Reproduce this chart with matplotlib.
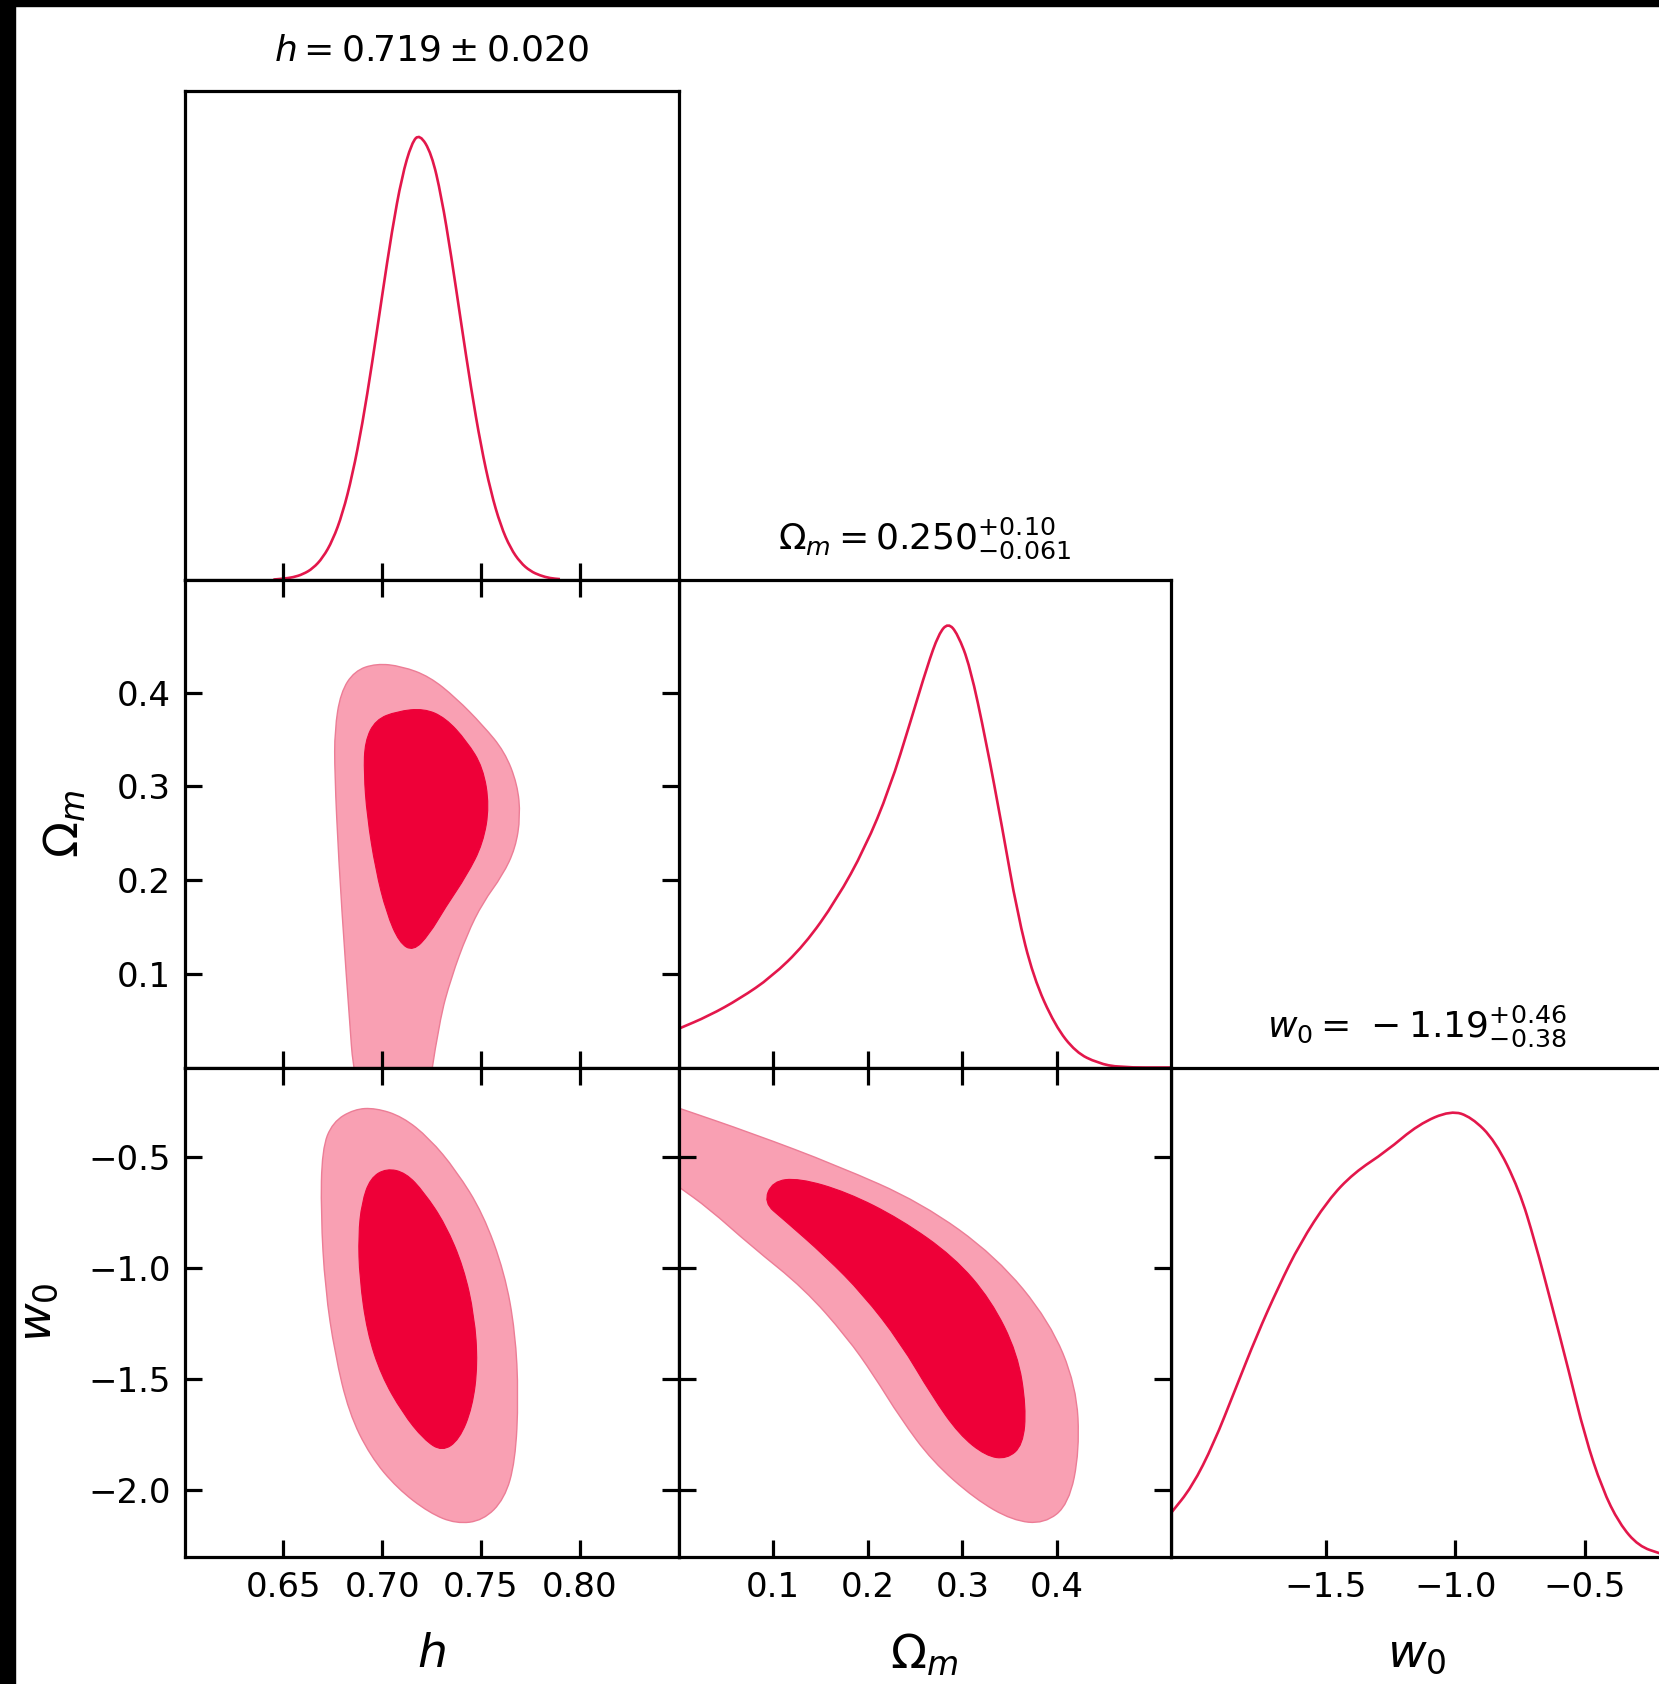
import matplotlib.pyplot as plt
from matplotlib.patches import Rectangle, PathPatch
from matplotlib.path import Path
from matplotlib.ticker import FuncFormatter

# 1D marginals (normalised to peak = 1)
h_grid = [0.645, 0.650, 0.655, 0.660, 0.665, 0.670, 0.675, 0.680, 0.685, 0.690,
          0.695, 0.700, 0.705, 0.710, 0.715, 0.719, 0.725, 0.730, 0.735, 0.740,
          0.745, 0.750, 0.755, 0.760, 0.765, 0.770, 0.775, 0.780, 0.785, 0.790]
h_pdf = [0.001, 0.003, 0.006, 0.013, 0.026, 0.050, 0.089, 0.149, 0.236, 0.349,
         0.487, 0.637, 0.783, 0.904, 0.980, 1.000, 0.956, 0.860, 0.726, 0.576,
         0.430, 0.301, 0.198, 0.122, 0.071, 0.039, 0.020, 0.010, 0.004, 0.002]

om_grid = [0.0, 0.032, 0.065, 0.098, 0.133, 0.167, 0.197, 0.223, 0.246, 0.263,
           0.275, 0.285, 0.295, 0.308, 0.325, 0.342, 0.358, 0.375, 0.398, 0.420,
           0.443, 0.466, 0.52]
om_pdf = [0.087, 0.116, 0.155, 0.203, 0.275, 0.377, 0.493, 0.626, 0.783, 0.903,
          0.975, 1.000, 0.975, 0.903, 0.734, 0.541, 0.348, 0.203, 0.094, 0.034,
          0.010, 0.0, 0.0]

w_grid = [-2.10, -2.017, -1.933, -1.85, -1.767, -1.683, -1.60, -1.492, -1.392,
          -1.267, -1.142, -1.017, -0.938, -0.846, -0.754, -0.692, -0.629, -0.563,
          -0.50, -0.433, -0.367, -0.292, -0.204]
w_pdf = [0.097, 0.157, 0.254, 0.375, 0.496, 0.605, 0.702, 0.799, 0.860,
         0.908, 0.969, 1.000, 0.985, 0.932, 0.823, 0.705, 0.567, 0.419,
         0.271, 0.153, 0.075, 0.024, 0.007]

# 2D credible regions (68% inner, 95% outer), outlines
h_om_95_h = [0.6874, 0.6815, 0.678, 0.676, 0.676, 0.679, 0.686, 0.697, 0.710, 0.724, 0.7375,
             0.751, 0.762, 0.7685, 0.770, 0.7675, 0.761, 0.751, 0.743, 0.735, 0.729, 0.7211]
h_om_95_om = [-0.06, 0.108, 0.222, 0.314, 0.360, 0.400, 0.423, 0.431, 0.428, 0.417, 0.394,
              0.365, 0.337, 0.302, 0.268, 0.234, 0.205, 0.176, 0.142, 0.096, 0.050, -0.06]
h_om_68_h = [0.6913, 0.6967, 0.7076, 0.7212, 0.7321, 0.7429, 0.7511, 0.7543, 0.7511,
             0.7429, 0.7321, 0.7239, 0.7158, 0.7087, 0.7022, 0.6967, 0.6924, 0.6908]
h_om_68_om = [0.348, 0.371, 0.380, 0.383, 0.373, 0.348, 0.320, 0.279, 0.239,
              0.205, 0.171, 0.142, 0.124, 0.133, 0.165, 0.211, 0.268, 0.314]

h_w_95_h = [0.6696, 0.675, 0.6859, 0.6967, 0.7103, 0.7239, 0.7375, 0.7511, 0.762, 0.7674, 0.769,
            0.7674, 0.762, 0.7511, 0.7375, 0.7239, 0.7076, 0.694, 0.6832, 0.6761, 0.6712, 0.669]
h_w_95_w = [-0.466, -0.345, -0.287, -0.282, -0.321, -0.418, -0.563, -0.757, -1.023, -1.289, -1.579,
            -1.870, -2.039, -2.136, -2.151, -2.102, -1.991, -1.846, -1.652, -1.386, -1.095, -0.757]
h_w_68_h = [0.6897, 0.694, 0.7022, 0.712, 0.7212, 0.7321, 0.7413, 0.7467, 0.7484,
            0.7457, 0.7391, 0.7304, 0.7212, 0.7103, 0.6995, 0.6924, 0.6886, 0.688]
h_w_68_w = [-0.708, -0.597, -0.553, -0.573, -0.660, -0.805, -0.999, -1.216, -1.434,
            -1.628, -1.773, -1.826, -1.773, -1.652, -1.483, -1.289, -1.047, -0.853]

om_w_95_om = [-0.04, 0.0, 0.0767, 0.1669, 0.257, 0.336, 0.3923, 0.4205, 0.4239, 0.4126, 0.3867,
              0.3529, 0.3134, 0.2683, 0.2345, 0.2063, 0.1781, 0.133, 0.0767, 0.0316, 0.0, -0.04]
om_w_95_w = [-0.224, -0.282, -0.394, -0.539, -0.708, -0.950, -1.241, -1.531, -1.821, -2.063, -2.151,
             -2.136, -2.039, -1.870, -1.676, -1.483, -1.313, -1.095, -0.902, -0.732, -0.636, -0.514]
om_w_68_om = [0.0902, 0.0992, 0.1274, 0.1781, 0.2345, 0.2909, 0.3303, 0.3585, 0.3675,
              0.3641, 0.3472, 0.3247, 0.2965, 0.2683, 0.2345, 0.195, 0.1556, 0.1105]
om_w_68_w = [-0.708, -0.611, -0.597, -0.660, -0.781, -0.950, -1.144, -1.386, -1.628,
             -1.797, -1.860, -1.846, -1.749, -1.579, -1.337, -1.120, -0.950, -0.781]

h_ticks = [0.65, 0.70, 0.75, 0.80]
om_ticks = [0.1, 0.2, 0.3, 0.4]
w_ticks_row = [-0.5, -1.0, -1.5, -2.0]
w_ticks_col = [-1.5, -1.0, -0.5]

titles = [r'$h = 0.719\pm 0.020$',
          r'$\Omega_m = 0.250^{+0.10}_{-0.061}$',
          r'$w_0 = \,-1.19^{+0.46}_{-0.38}$']

LINE = '#e3174b'
DARK = '#ee0038'
LIGHT = '#f9a0b3'
EDGE = '#ec7d96'

W, H = 1659, 1684
fig = plt.figure(figsize=(W / 100, H / 100), dpi=100)

col_l = [184.5, 678.5, 1170.5]
col_w = [494, 492, 492]
row_t = [91, 580, 1067.5]
row_h = [489, 487.5, 489.5]


def fmt(spec):
    return FuncFormatter(lambda v, p: (spec % v).replace('-', '\u2212'))


def smooth(xs, ys, closed):
    # quadratic Bezier through segment midpoints, control points = read outline points
    pts = list(zip(xs, ys))
    n = len(pts)
    mid = lambda a, b: ((a[0] + b[0]) / 2, (a[1] + b[1]) / 2)
    if closed:
        start = mid(pts[-1], pts[0])
        verts, codes = [start], [Path.MOVETO]
        for i in range(n):
            verts += [pts[i], mid(pts[i], pts[(i + 1) % n])]
            codes += [Path.CURVE3, Path.CURVE3]
        verts.append(start)
        codes.append(Path.CLOSEPOLY)
    else:
        verts, codes = [pts[0], mid(pts[0], pts[1])], [Path.MOVETO, Path.LINETO]
        for i in range(1, n - 1):
            verts += [pts[i], mid(pts[i], pts[i + 1])]
            codes += [Path.CURVE3, Path.CURVE3]
        verts.append(pts[-1])
        codes.append(Path.LINETO)
    return Path(verts, codes)


def panel(r, c):
    box = [col_l[c] / W, 1 - (row_t[r] + row_h[r]) / H, col_w[c] / W, row_h[r] / H]
    ax = fig.add_axes(box)
    for s in ax.spines.values():
        s.set_linewidth(2.3)
    ax.tick_params(direction='in', length=12, width=2.3, labelsize=24.5, pad=10)
    return ax


xlims = [(0.60, 0.85), (0.0, 0.52), (-2.1, -0.2)]
ylims_row = [None, (0.0, 0.52), (-2.3, -0.1)]

# diagonal 1D panels
for i, (xs, ys) in enumerate([(h_grid, h_pdf), (om_grid, om_pdf), (w_grid, w_pdf)]):
    ax = panel(i, i)
    ax.add_patch(PathPatch(smooth(xs, ys, False), fill=False, edgecolor=LINE, lw=1.9))
    ax.set_xlim(*xlims[i])
    ax.set_ylim(0, 1.096)
    ax.set_yticks([])
    ax.set_title(titles[i], fontsize=26, pad=22)
    if i == 0:
        ax.set_xticks(h_ticks)
    elif i == 1:
        ax.set_xticks(om_ticks)
    else:
        ax.set_xticks(w_ticks_col)
        ax.xaxis.set_major_formatter(fmt('%.1f'))
        ax.set_xlabel(r'$w_0$', fontsize=34, labelpad=20)
    if i < 2:
        ax.tick_params(labelbottom=False)

# off-diagonal 2D panels
pairs = {(1, 0): (h_om_95_h, h_om_95_om, h_om_68_h, h_om_68_om),
         (2, 0): (h_w_95_h, h_w_95_w, h_w_68_h, h_w_68_w),
         (2, 1): (om_w_95_om, om_w_95_w, om_w_68_om, om_w_68_w)}
for (r, c), (x95, y95, x68, y68) in pairs.items():
    ax = panel(r, c)
    ax.add_patch(PathPatch(smooth(x95, y95, True), facecolor=LIGHT, edgecolor=EDGE, lw=1.0))
    ax.add_patch(PathPatch(smooth(x68, y68, True), facecolor=DARK, edgecolor=DARK, lw=0.8))
    ax.set_xlim(*xlims[c])
    ax.set_ylim(*ylims_row[r])
    ax.tick_params(top=True, right=True)
    ax.set_xticks(h_ticks if c == 0 else om_ticks)
    ax.set_yticks(om_ticks if r == 1 else w_ticks_row)
    ax.xaxis.set_major_formatter(fmt('%.2f' if c == 0 else '%.1f'))
    ax.yaxis.set_major_formatter(fmt('%.1f'))
    if r == 2:
        ax.set_xlabel(r'$h$' if c == 0 else r'$\Omega_m$', fontsize=34, labelpad=20)
    else:
        ax.tick_params(labelbottom=False)
    if c == 0:
        ax.set_ylabel(r'$\Omega_m$' if r == 1 else r'$w_0$', fontsize=34, labelpad=20)
    else:
        ax.tick_params(labelleft=False)

# dark frame left over from the original screenshot
fig.patches.append(Rectangle((0, 0), 15 / W, 1, transform=fig.transFigure, color='black', zorder=10))
fig.patches.append(Rectangle((0, 1 - 6 / H), 1, 6 / H, transform=fig.transFigure, color='black', zorder=10))

fig.savefig('out.png', dpi=100)
